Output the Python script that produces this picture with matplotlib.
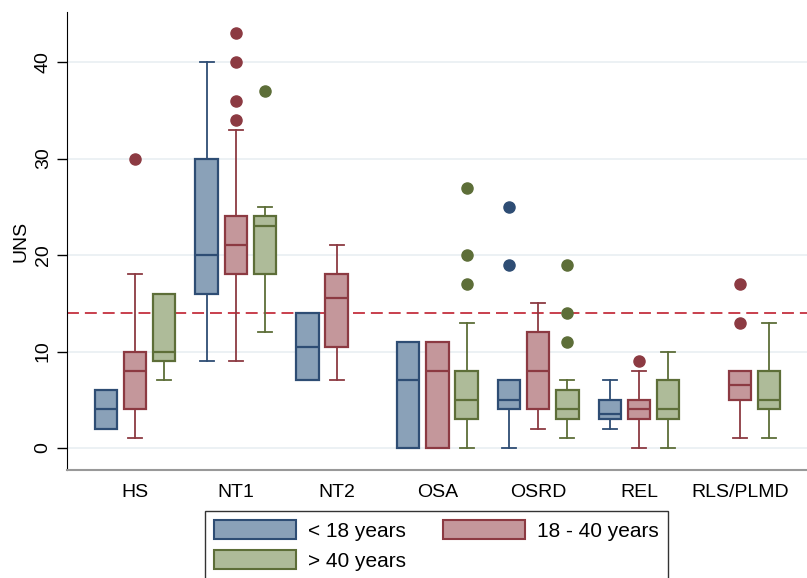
import matplotlib
matplotlib.use("Agg")
import matplotlib.pyplot as plt
from matplotlib.patches import Patch

plt.rcParams["font.family"] = ["Liberation Sans", "DejaVu Sans"]

categories = ["HS", "NT1", "NT2", "OSA", "OSRD", "REL", "RLS/PLMD"]
groups = ["< 18 years", "18 - 40 years", "> 40 years"]

# stats per group: (whislo, q1, med, q3, whishi, fliers); None = no box
under18 = [
    (2, 2, 4, 6, 6, []),
    (9, 16, 20, 30, 40, []),
    (7, 7, 10.5, 14, 14, []),
    (0, 0, 7, 11, 11, []),
    (0, 4, 5, 7, 7, [19, 25]),
    (2, 3, 3.5, 5, 7, []),
    None,
]
age18_40 = [
    (1, 4, 8, 10, 18, [30]),
    (9, 18, 21, 24, 33, [34, 36, 40, 43]),
    (7, 10.5, 15.5, 18, 21, []),
    (0, 0, 8, 11, 11, []),
    (2, 4, 8, 12, 15, []),
    (0, 3, 4, 5, 8, [9]),
    (1, 5, 6.5, 8, 8, [13, 17]),
]
over40 = [
    (7, 9, 10, 16, 16, []),
    (12, 18, 23, 24, 25, [37]),
    None,
    (0, 3, 5, 8, 13, [17, 20, 27]),
    (1, 3, 4, 6, 7, [11, 14, 19]),
    (0, 3, 4, 7, 10, []),
    (1, 4, 5, 8, 13, []),
]
reference_line = 14
yticks = [0, 10, 20, 30, 40]

fills = ["#8aa1b8", "#c4979b", "#aebb99"]
edges = ["#2e4d74", "#8c3a42", "#5d6e38"]
offsets = [-0.29, 0.0, 0.29]

fig = plt.figure(figsize=(8.07, 5.78), dpi=100)
ax = fig.add_axes([67/807, 1-470/578, 1-67/807, (470-12)/578])

for yv in yticks:
    ax.axhline(yv, color="#e9eff2", lw=1.2, zorder=0)
ax.axhline(reference_line, color="#c4303f", lw=1.3, linestyle=(0, (6.6, 3.3)), zorder=1)

for gi, series in enumerate([under18, age18_40, over40]):
    stats, pos = [], []
    for ci, s in enumerate(series):
        if s is None:
            continue
        wl, q1, med, q3, wh, fl = s
        stats.append(dict(whislo=wl, q1=q1, med=med, q3=q3, whishi=wh, fliers=fl))
        pos.append(ci + offsets[gi])
    ec = edges[gi]
    ax.bxp(stats, positions=pos, widths=0.222, patch_artist=True, capwidths=0.14,
           boxprops=dict(facecolor=fills[gi], edgecolor=ec, linewidth=1.6),
           medianprops=dict(color=ec, linewidth=1.6),
           whiskerprops=dict(color=ec, linewidth=1.3),
           capprops=dict(color=ec, linewidth=1.3),
           flierprops=dict(marker="o", markerfacecolor=ec, markeredgecolor=ec, markersize=8),
           manage_ticks=False, zorder=3)

ax.set_xlim(-0.675, 6.667)
ax.set_ylim(-2.28, 45.2)
ax.set_xticks(range(len(categories)))
ax.set_xticklabels(categories, fontsize=14)
ax.set_yticks(yticks)
ax.set_yticklabels([str(v) for v in yticks], fontsize=14, rotation=90, va="center")
ax.tick_params(axis="x", length=0, pad=10)
ax.tick_params(axis="y", length=7, width=1, pad=4)
ax.set_ylabel("UNS", fontsize=14, labelpad=4)
for side in ["top", "right"]:
    ax.spines[side].set_visible(False)
ax.spines["left"].set_color("black")
ax.spines["bottom"].set_color("#999999")
ax.spines["bottom"].set_linewidth(1.5)

handles = [Patch(facecolor=fills[i], edgecolor=edges[i], linewidth=1.5) for i in range(3)]
order = [0, 2, 1]
leg = fig.legend([handles[i] for i in order], [groups[i] for i in order], ncol=2,
                 loc="upper left", bbox_to_anchor=(205/807, 1-511/578), fontsize=15,
                 frameon=True, fancybox=False, edgecolor="black", handlelength=3.94,
                 handleheight=1.06, handletextpad=0.58, columnspacing=1.78, labelspacing=0.44,
                 borderpad=0.42, borderaxespad=0)
leg.get_frame().set_linewidth(1.0)

fig.savefig("out.png", dpi=100)
